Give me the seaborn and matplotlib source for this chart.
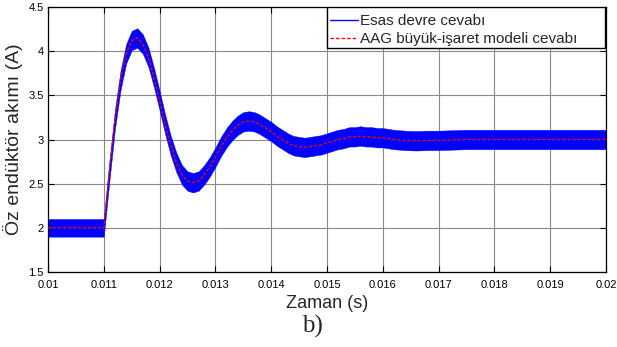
import numpy as np
import pandas as pd
import matplotlib
matplotlib.use("Agg")
import matplotlib.pyplot as plt
import seaborn as sns
from matplotlib.lines import Line2D
from matplotlib.patches import Rectangle

# ---- data ----
time_s = [0.0100, 0.0110,
          0.0111, 0.0112, 0.0113, 0.0114, 0.0115, 0.0116, 0.0117, 0.0118, 0.0119, 0.0120,
          0.0121, 0.0122, 0.0123, 0.0124, 0.0125, 0.0126, 0.0127, 0.0128, 0.0129, 0.0130,
          0.0131, 0.0132, 0.0133, 0.0134, 0.0135, 0.0136, 0.0137, 0.0138, 0.0139, 0.0140,
          0.0141, 0.0142, 0.0143, 0.0144, 0.0145, 0.0146, 0.0147, 0.0148, 0.0149, 0.0150,
          0.0151, 0.0152, 0.0153, 0.0154, 0.0155, 0.0156, 0.0157, 0.0158, 0.0159, 0.0160,
          0.0162, 0.0164, 0.0166, 0.0168, 0.0170, 0.0175, 0.0180, 0.0190, 0.0200]
mean_current = [2.00, 2.00,
                2.64, 3.23, 3.67, 3.97, 4.12, 4.15, 4.08, 3.93, 3.70, 3.44,
                3.17, 2.93, 2.74, 2.60, 2.53, 2.51, 2.53, 2.60, 2.69, 2.80,
                2.92, 3.02, 3.10, 3.16, 3.20, 3.21, 3.20, 3.17, 3.13, 3.09,
                3.04, 3.00, 2.96, 2.93, 2.92, 2.91, 2.92, 2.93, 2.94, 2.96,
                2.98, 3.00, 3.01, 3.03, 3.03, 3.04, 3.03, 3.03, 3.02, 3.02,
                3.00, 2.99, 2.985, 2.99, 2.99, 3.00, 3.00, 3.00, 3.00]
ripple_initial = 0.10
ripple_steady = 0.11
step_time = 0.011

series_labels = ["Esas devre cevabı", "AAG büyük-işaret modeli cevabı"]
x_ticks = [0.010, 0.011, 0.012, 0.013, 0.014, 0.015, 0.016, 0.017, 0.018, 0.019, 0.020]
x_tick_labels = ["0.01", "0.011", "0.012", "0.013", "0.014", "0.015",
                 "0.016", "0.017", "0.018", "0.019", "0.02"]
y_ticks = [1.5, 2.0, 2.5, 3.0, 3.5, 4.0, 4.5]
y_tick_labels = ["1.5", "2", "2.5", "3", "3.5", "4", "4.5"]
x_label = "Zaman (s)"
y_label = "Öz endüktör akımı (A)"
caption = "b)"

# ---- style ----
sns.set_theme(style="white")
plt.rcParams["font.family"] = ["Liberation Sans", "DejaVu Sans"]

fig = plt.figure(figsize=(6.17, 3.47), dpi=100)
ax = fig.add_axes([48 / 617, 1 - 272 / 347, 558 / 617, 265 / 347])

df = pd.DataFrame({"t": time_s, "i": mean_current})
ripple = np.where(df["t"] <= step_time, ripple_initial, ripple_steady)

ax.fill_between(df["t"], df["i"] - ripple, df["i"] + ripple,
                color="#0000ff", lw=0.3, edgecolor="#0000ff", zorder=2)
sns.lineplot(data=df, x="t", y="i", ax=ax, color="#ff0000",
             linestyle=(0, (2.5, 1.5)), lw=0.9, zorder=3, legend=False)

ax.set_xlim(0.010, 0.020)
ax.set_ylim(1.5, 4.5)
ax.set_xticks(x_ticks)
ax.set_xticklabels(x_tick_labels)
ax.set_yticks(y_ticks)
ax.set_yticklabels(y_tick_labels)
ax.tick_params(direction="in", length=4, width=0.8, colors="black",
               labelsize=8, top=True, right=True, bottom=True, left=True)
ax.tick_params(axis="x", pad=6)
ax.tick_params(axis="y", pad=3)
ax.grid(True, color="#8a8a8a", lw=0.8, ls="-")
for s in ax.spines.values():
    s.set_color("black")
    s.set_linewidth(0.9)

ax.set_xlabel(x_label, fontsize=13, labelpad=3)
ax.set_ylabel(y_label, fontsize=14, labelpad=4)

# legend box (MATLAB-style, with extra space on the right)
box = Rectangle((0.5, 0.845), 0.498, 0.155, transform=ax.transAxes,
                facecolor="white", edgecolor="black", lw=1.0, zorder=5)
ax.add_patch(box)
handles = [Line2D([], [], color="#0000ff", lw=1.0),
           Line2D([], [], color="#ff0000", lw=1.0, linestyle=(0, (2.5, 1.5)))]
leg = ax.legend(handles, series_labels, loc="upper left",
                bbox_to_anchor=(0.493, 1.0), borderaxespad=0.0,
                fontsize=11, frameon=False,
                handlelength=1.85, handletextpad=0.12, labelspacing=0.27,
                borderpad=0.45)
leg.set_zorder(6)

fig.text(312 / 617, 1 - 326 / 347, caption, family=["Liberation Serif", "DejaVu Serif"],
         fontsize=18, ha="center", va="center")

fig.savefig("out.png", dpi=100, facecolor="white")
